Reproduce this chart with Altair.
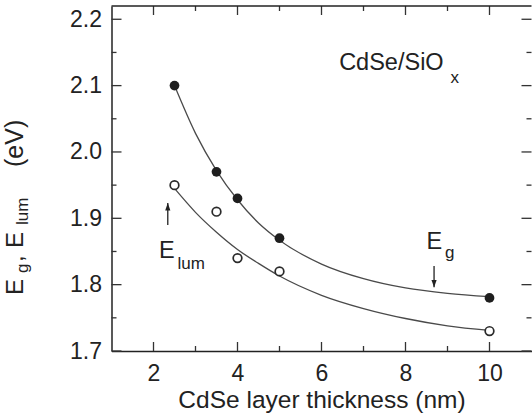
import altair as alt
import pandas as pd

# ---- data ----
thickness = [2.5, 3.5, 4.0, 5.0, 10.0]
e_gap = [2.10, 1.97, 1.93, 1.87, 1.78]
e_lum = [1.95, 1.91, 1.84, 1.82, 1.73]

fit_x = [2.5, 3.0, 3.5, 4.0, 4.5, 5.0, 6.0, 7.0, 8.0, 9.0, 10.0]
fit_gap = [2.100, 2.028, 1.972, 1.928, 1.893, 1.867, 1.831, 1.809, 1.795, 1.787, 1.782]
fit_lum = [1.945, 1.909, 1.879, 1.853, 1.832, 1.813, 1.784, 1.764, 1.749, 1.738, 1.731]

x_major = [2, 4, 6, 8, 10]
x_minor = [3, 5, 7, 9]
y_major = [1.7, 1.8, 1.9, 2.0, 2.1, 2.2]
y_minor = [1.75, 1.85, 1.95, 2.05, 2.15]

# ---- layout / style ----
W, H = 420, 345
FONT = "Liberation Sans"
TXT = "#222222"
LINE = "#4a4a4a"

xs = alt.Scale(domain=[1, 11], nice=False, zero=False)
ys = alt.Scale(domain=[1.7, 2.22], nice=False, zero=False)

pts = pd.DataFrame({"t": thickness, "eg": e_gap, "el": e_lum})
fit = pd.DataFrame({"t": fit_x, "eg": fit_gap, "el": fit_lum})

x_ax = alt.Axis(values=x_major, format="d", title="CdSe layer thickness (nm)",
                ticks=True, tickSize=0, labelPadding=11, titlePadding=3,
                grid=False, domainColor="#222", domainWidth=1.5)
y_ax = alt.Axis(values=y_major, format=".1f", title=None, ticks=True, tickSize=0,
                labelPadding=10, grid=False, domainColor="#222", domainWidth=1.5)

def X(field):
    return alt.X(field, scale=xs, axis=x_ax)

def Y(field):
    return alt.Y(field, scale=ys, axis=y_ax)

line_gap = alt.Chart(fit).mark_line(interpolate="monotone", color=LINE, strokeWidth=1.3).encode(
    x=X("t:Q"), y=Y("eg:Q"))
line_lum = alt.Chart(fit).mark_line(interpolate="monotone", color=LINE, strokeWidth=1.3).encode(
    x=X("t:Q"), y=Y("el:Q"))

filled = alt.Chart(pts).mark_point(shape="circle", filled=True, color="#1e1e1e", size=95, opacity=1).encode(
    x=X("t:Q"), y=Y("eg:Q"))
hollow = alt.Chart(pts).mark_point(shape="circle", filled=True, fill="white", stroke="#2a2a2a",
                                   strokeWidth=1.7, size=75, opacity=1).encode(
    x=X("t:Q"), y=Y("el:Q"))

def xticks(vals, length):
    d = pd.DataFrame({"t": vals})
    bot = alt.Chart(d).mark_rule(color="#333", strokeWidth=1.3).encode(
        x=X("t:Q"), y=alt.value(H), y2=alt.value(H - length))
    top = alt.Chart(d).mark_rule(color="#333", strokeWidth=1.3).encode(
        x=X("t:Q"), y=alt.value(0), y2=alt.value(length))
    return [bot, top]

def yticks(vals, length):
    d = pd.DataFrame({"v": vals})
    left = alt.Chart(d).mark_rule(color="#333", strokeWidth=1.3).encode(
        y=Y("v:Q"), x=alt.value(0), x2=alt.value(length))
    right = alt.Chart(d).mark_rule(color="#333", strokeWidth=1.3).encode(
        y=Y("v:Q"), x=alt.value(W), x2=alt.value(W - length))
    return [left, right]

tick_layers = xticks(x_major, 9) + xticks(x_minor, 5) + yticks(y_major, 10) + yticks(y_minor, 5)

frame_top = alt.Chart(pd.DataFrame({"a": [0]})).mark_rule(color="#222", strokeWidth=1.5).encode(
    x=alt.value(0), x2=alt.value(W), y=alt.value(0))

# ---- annotations (data coordinates) ----
def label(text, x, y, size):
    d = pd.DataFrame({"t": [x], "v": [y], "s": [text]})
    return alt.Chart(d).mark_text(align="left", baseline="alphabetic", font=FONT,
                                  fontSize=size, color=TXT).encode(
        x=X("t:Q"), y=Y("v:Q"), text="s:N")

ann = [
    label("CdSe/SiO", 6.42, 2.1235, 23.5),
    label("x", 9.07, 2.104, 17),
    label("E", 2.13, 1.840, 23.5),
    label("lum", 2.57, 1.824, 17),
    label("E", 8.50, 1.8535, 23.5),
    label("g", 8.94, 1.840, 17),
]

def arrow(x, y0, y1, up):
    d = pd.DataFrame({"t": [x], "a": [y0], "b": [y1]})
    shaft = alt.Chart(d).mark_rule(color="#222", strokeWidth=1.3).encode(
        x=X("t:Q"), y=Y("a:Q"), y2="b:Q")
    path = "M0,0L-0.35,1L0.35,1Z" if up else "M0,0L-0.35,-1L0.35,-1Z"
    head = alt.Chart(d).mark_point(shape=path, filled=True, color="#222", size=220, opacity=1).encode(
        x=X("t:Q"), y=Y("b:Q"))
    return [shaft, head]

arrows = arrow(8.68, 1.828, 1.796, False) + arrow(2.34, 1.890, 1.923, True)

# ---- y-axis title with subscripts (rotated text, pixel positions) ----
def ytext(text, x, y, size):
    d = pd.DataFrame({"s": [text]})
    return alt.Chart(d).mark_text(align="left", baseline="alphabetic", angle=270, font=FONT,
                                  fontSize=size, color=TXT).encode(
        x=alt.value(x), y=alt.value(y), text="s:N")

ytitle = [
    ytext("E", -89, 289, 24),
    ytext("g", -83.5, 267, 17),
    ytext(",", -89, 256, 24),
    ytext("E", -89, 242, 24),
    ytext("lum", -83.5, 219, 17),
    ytext("(eV)", -89, 161, 25),
]

chart = alt.layer(
    line_gap, line_lum, *tick_layers, frame_top, filled, hollow, *ann, *arrows, *ytitle
).properties(
    width=W, height=H,
    autosize=alt.AutoSizeParams(type="none"),
    padding={"left": 111.5, "top": 6, "right": 0, "bottom": 67},
    background="white",
).configure_view(stroke=None).configure_axis(
    labelFont=FONT, labelFontSize=23, labelColor=TXT,
    titleFont=FONT, titleFontSize=24.5, titleFontWeight="normal", titleColor=TXT,
)

chart.save("out.html", embed_options={"renderer": "svg", "actions": False})
